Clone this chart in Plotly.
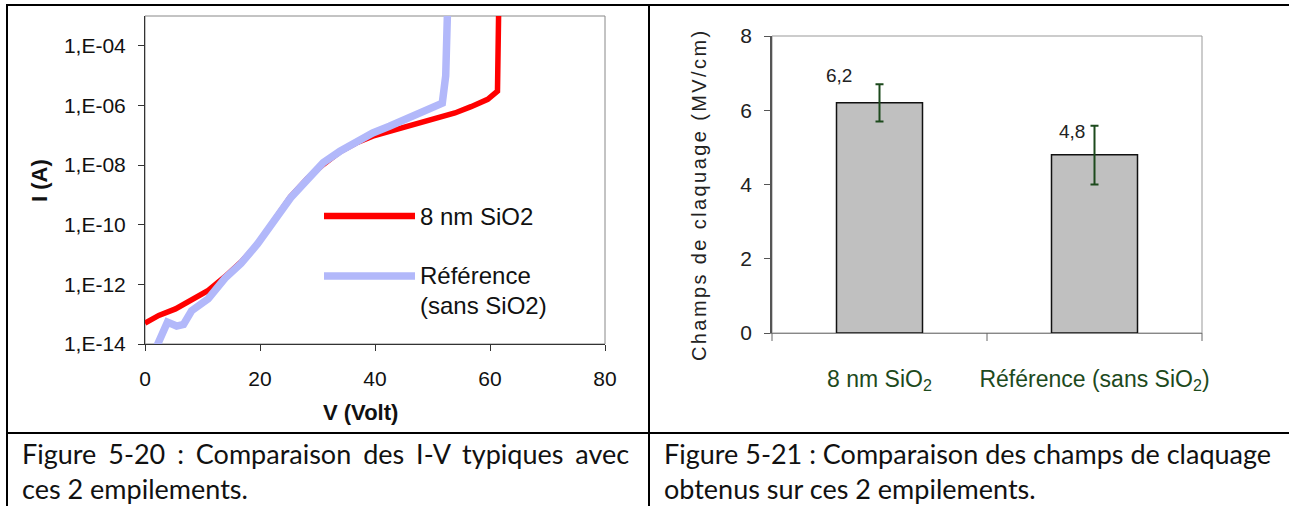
import plotly.graph_objects as go

# Figure 5-20 : I-V curves (V in volts, I in amps)
v_sio2 = [0, 2.4, 5.3, 8.1, 11, 13.9, 16.7, 19.6, 22.4, 25.3, 28.2, 31, 33.9, 36.7,
          39.6, 42.5, 45.3, 48.2, 51, 53.9, 56.7, 59.6, 61.3, 61.5]
i_sio2 = [5.0e-14, 9.1e-14, 1.5e-13, 2.9e-13, 6.3e-13, 1.8e-12, 5.6e-12, 2.3e-11, 1.4e-10,
          8.7e-10, 3.5e-9, 1.05e-8, 2.8e-8, 5.5e-8, 9.3e-8, 1.35e-7, 2.0e-7, 2.95e-7,
          3.8e-7, 5.6e-7, 9.1e-7, 1.6e-6, 3.0e-6, 1.3e-3]

v_ref = [2.0, 3.9, 5.5, 6.7, 8.1, 11, 13.9, 16.7, 19.6, 22.4, 25.3, 28.2, 31, 33.9, 36.7,
         39.6, 42.5, 45.3, 48.2, 50.3, 51.7, 52.3, 52.6]
i_ref = [8.0e-15, 5.4e-14, 4.0e-14, 4.5e-14, 1.3e-13, 3.3e-13, 1.6e-12, 5.0e-12, 2.3e-11,
         1.4e-10, 7.9e-10, 3.2e-9, 1.2e-8, 2.9e-8, 6.3e-8, 1.2e-7, 2.0e-7, 3.4e-7, 5.6e-7,
         9.5e-7, 1.2e-6, 1.0e-5, 1.3e-3]

x_ticks = [0, 20, 40, 60, 80]
y_exps = [-14, -12, -10, -8, -6, -4]

# Figure 5-21 : breakdown field (MV/cm)
categories = ["8 nm SiO<sub>2</sub>", "Référence (sans SiO<sub>2</sub>)"]
champ = [6.2, 4.8]
err_plus = [0.5, 0.78]
err_minus = [0.5, 0.8]
champ_labels = ["6,2", "4,8"]
y2_ticks = [0, 2, 4, 6, 8]

W, H = 1289, 506


def px(x):
    return x / W


def py(y):
    return 1 - y / H


RED = "#ff0000"
LAV = "rgb(178,184,250)"
GREEN = "#1d4a1d"
FONT = "Liberation Sans, Arial, sans-serif"
CAP_FONT = "Lato, Open Sans, sans-serif"

fig = go.Figure()

fig.add_trace(go.Scatter(x=v_sio2, y=i_sio2, mode="lines", name="8 nm SiO2",
                         line=dict(color=RED, width=5.5), xaxis="x", yaxis="y", showlegend=False))
fig.add_trace(go.Scatter(x=v_ref, y=i_ref, mode="lines", name="Référence (sans SiO2)",
                         line=dict(color=LAV, width=7.5), xaxis="x", yaxis="y", showlegend=False))

fig.add_trace(go.Bar(x=list(range(len(categories))), y=champ, width=0.4,
                     marker=dict(color="#c0c0c0", line=dict(color="#111111", width=1.5)),
                     error_y=dict(type="data", array=err_plus, arrayminus=err_minus,
                                  color=GREEN, thickness=2, width=4),
                     xaxis="x2", yaxis="y2", showlegend=False))

axis_common = dict(showgrid=False, zeroline=False, ticks="outside", showline=True, automargin=False,
                   tickfont=dict(family=FONT, size=21, color="#111111"))

fig.update_layout(
    template="none",
    width=W, height=H,
    margin=dict(l=0, r=0, t=0, b=0, pad=0, autoexpand=False),
    paper_bgcolor="white", plot_bgcolor="white",
    xaxis=dict(domain=[px(145), px(605)], range=[0, 80], tickvals=x_ticks,
               ticklen=6, tickcolor="#333", linecolor="#333", linewidth=1,
               ticklabelstandoff=10, anchor="y", **axis_common),
    yaxis=dict(domain=[py(344), py(16)], type="log", range=[-14, -3],
               tickvals=[10.0 ** e for e in y_exps],
               ticktext=[f"1,E-{abs(e):02d}" for e in y_exps],
               ticklen=6, tickcolor="#333", linecolor="#333", linewidth=1,
               ticklabelstandoff=8, anchor="x", **axis_common),
    xaxis2=dict(domain=[px(772), px(1202)], range=[-0.5, 1.5],
                tickvals=list(range(len(categories))), ticktext=categories,
                ticklen=0, linecolor="#888", linewidth=1, anchor="y2",
                ticklabelstandoff=25, automargin=False,
                showgrid=False, zeroline=False, showline=True,
                tickfont=dict(family=FONT, size=23, color=GREEN)),
    yaxis2=dict(domain=[py(333), py(36)], range=[0, 8], tickvals=y2_ticks,
                ticklen=6, tickcolor="#555", linecolor="#555", linewidth=1.5,
                ticklabelstandoff=8, anchor="x2", automargin=False,
                showgrid=False, zeroline=False, ticks="outside", showline=True,
                tickfont=dict(family=FONT, size=21, color="#222")),
)

shapes = []
# plot frames (top/right edges)
shapes.append(dict(type="rect", xref="x domain", yref="y domain", x0=0, x1=1, y0=0, y1=1,
                   line=dict(color="#888", width=1), layer="below"))
shapes.append(dict(type="rect", xref="x2 domain", yref="y2 domain", x0=0, x1=1, y0=0, y1=1,
                   line=dict(color="#999", width=1), layer="below"))
# category boundary ticks on bar chart
for t in [0, 0.5, 1]:
    shapes.append(dict(type="line", xref="x2 domain", yref="paper", x0=t, x1=t,
                       y0=py(333), y1=py(341), line=dict(color="#666", width=1)))
# legend samples
shapes.append(dict(type="line", xref="paper", yref="paper", x0=px(324), x1=px(415),
                   y0=py(216), y1=py(216), line=dict(color=RED, width=6.5)))
shapes.append(dict(type="line", xref="paper", yref="paper", x0=px(324), x1=px(415),
                   y0=py(276), y1=py(276), line=dict(color=LAV, width=7.5)))
# table lines
tbl = dict(color="black", width=2)
shapes.append(dict(type="line", xref="paper", yref="paper", x0=px(6), x1=1, y0=py(5), y1=py(5), line=tbl))
shapes.append(dict(type="line", xref="paper", yref="paper", x0=px(6), x1=1, y0=py(433), y1=py(433), line=tbl))
shapes.append(dict(type="line", xref="paper", yref="paper", x0=px(7), x1=px(7), y0=py(4), y1=0, line=tbl))
shapes.append(dict(type="line", xref="paper", yref="paper", x0=px(649), x1=px(649), y0=py(4), y1=0, line=tbl))
fig.update_layout(shapes=shapes)

ann = []
# legend texts
leg_font = dict(family=FONT, size=24, color="#111")
for y, txt in [(216, "8 nm SiO2"), (275, "Référence"), (305, "(sans SiO2)")]:
    ann.append(dict(xref="paper", yref="paper", x=px(418), y=py(y), xanchor="left", yanchor="middle",
                    text=txt, showarrow=False, font=leg_font))
# axis titles
ann.append(dict(xref="paper", yref="paper", x=px(360), y=py(412), xanchor="center", yanchor="middle",
                text="<b>V (Volt)</b>", showarrow=False, font=dict(family=FONT, size=22, color="#111")))
ann.append(dict(xref="paper", yref="paper", x=px(40), y=py(181), xanchor="center", yanchor="middle",
                text="<b>I (A)</b>", textangle=-90, showarrow=False,
                font=dict(family=FONT, size=22, color="#111")))
ann.append(dict(xref="paper", yref="paper", x=px(699), y=py(195), xanchor="center", yanchor="middle",
                text='<span style="letter-spacing:2.4px">Champs de claquage (MV/cm)</span>',
                textangle=-90, showarrow=False, font=dict(family=FONT, size=20, color="#222")))
# bar value labels
label_shift = [(-41, 27), (-23, 23)]
for i, (val, lab) in enumerate(zip(champ, champ_labels)):
    ann.append(dict(xref="x2", yref="y2", x=i, y=val, text=lab, showarrow=False,
                    xshift=label_shift[i][0], yshift=label_shift[i][1],
                    font=dict(family=FONT, size=19, color="#222")))
# captions
cap = dict(family=CAP_FONT, size=27, color="#111")
ann.append(dict(xref="paper", yref="paper", x=px(20), y=py(453), xanchor="left", yanchor="middle",
                text='<span style="word-spacing:5px">Figure 5-20 : Comparaison des I-V typiques avec</span>',
                showarrow=False, font=cap))
ann.append(dict(xref="paper", yref="paper", x=px(20), y=py(488), xanchor="left", yanchor="middle",
                text="ces 2 empilements.", showarrow=False, font=cap))
ann.append(dict(xref="paper", yref="paper", x=px(662), y=py(453), xanchor="left", yanchor="middle",
                text="Figure 5-21 : Comparaison des champs de claquage", showarrow=False, font=cap))
ann.append(dict(xref="paper", yref="paper", x=px(662), y=py(488), xanchor="left", yanchor="middle",
                text="obtenus sur ces 2 empilements.", showarrow=False, font=cap))
fig.update_layout(annotations=ann)

fig.write_html("out.html", config={"displayModeBar": False},
               post_script="document.body.style.margin='0';")
